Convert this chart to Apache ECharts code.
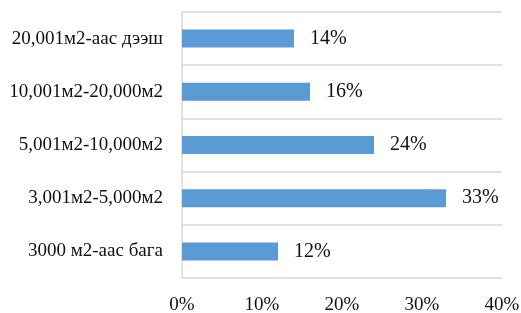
<!DOCTYPE html>
<html>
<head>
<meta charset="utf-8">
<script src="https://cdn.jsdelivr.net/npm/echarts@6/dist/echarts.min.js"></script>
<style>
  html, body { margin: 0; padding: 0; background: #fff; }
  #chart { width: 521px; height: 313px; }
</style>
</head>
<body>
<div id="chart"></div>
<script>
// categories from top to bottom
const categories = ['20,001м2-аас дээш', '10,001м2-20,000м2', '5,001м2-10,000м2', '3,001м2-5,000м2', '3000 м2-аас бага'];
const shares = [14, 16, 24, 33, 12];

const fontFamily = '"Liberation Serif", "DejaVu Serif", serif';

let myChart = echarts.init(document.getElementById('chart'));
let option = {
  animation: false,
  grid: { left: 182, right: 19, top: 12, bottom: 35, outerBoundsMode: 'none' },
  xAxis: {
    type: 'value',
    min: 0,
    max: 40,
    interval: 10,
    axisLine: { show: false },
    axisTick: { show: false },
    splitLine: { show: false },
    axisLabel: {
      formatter: '{value}%',
      fontFamily: fontFamily,
      fontSize: 19,
      color: '#111',
      margin: 18
    }
  },
  yAxis: {
    type: 'category',
    inverse: true,
    data: categories,
    axisLine: { show: true, lineStyle: { color: '#d9d9d9', width: 1.5 } },
    axisTick: { show: false },
    splitLine: { show: true, lineStyle: { color: '#d9d9d9', width: 1.5 } },
    axisLabel: {
      fontFamily: fontFamily,
      fontSize: 19,
      color: '#111',
      margin: 19
    }
  },
  series: [{
    type: 'bar',
    data: shares,
    barWidth: 18,
    itemStyle: { color: '#5b9bd5' },
    label: {
      show: true,
      position: 'right',
      distance: 16,
      formatter: '{c}%',
      fontFamily: fontFamily,
      fontSize: 20,
      color: '#111'
    }
  }]
};
myChart.setOption(option);
</script>
</body>
</html>
